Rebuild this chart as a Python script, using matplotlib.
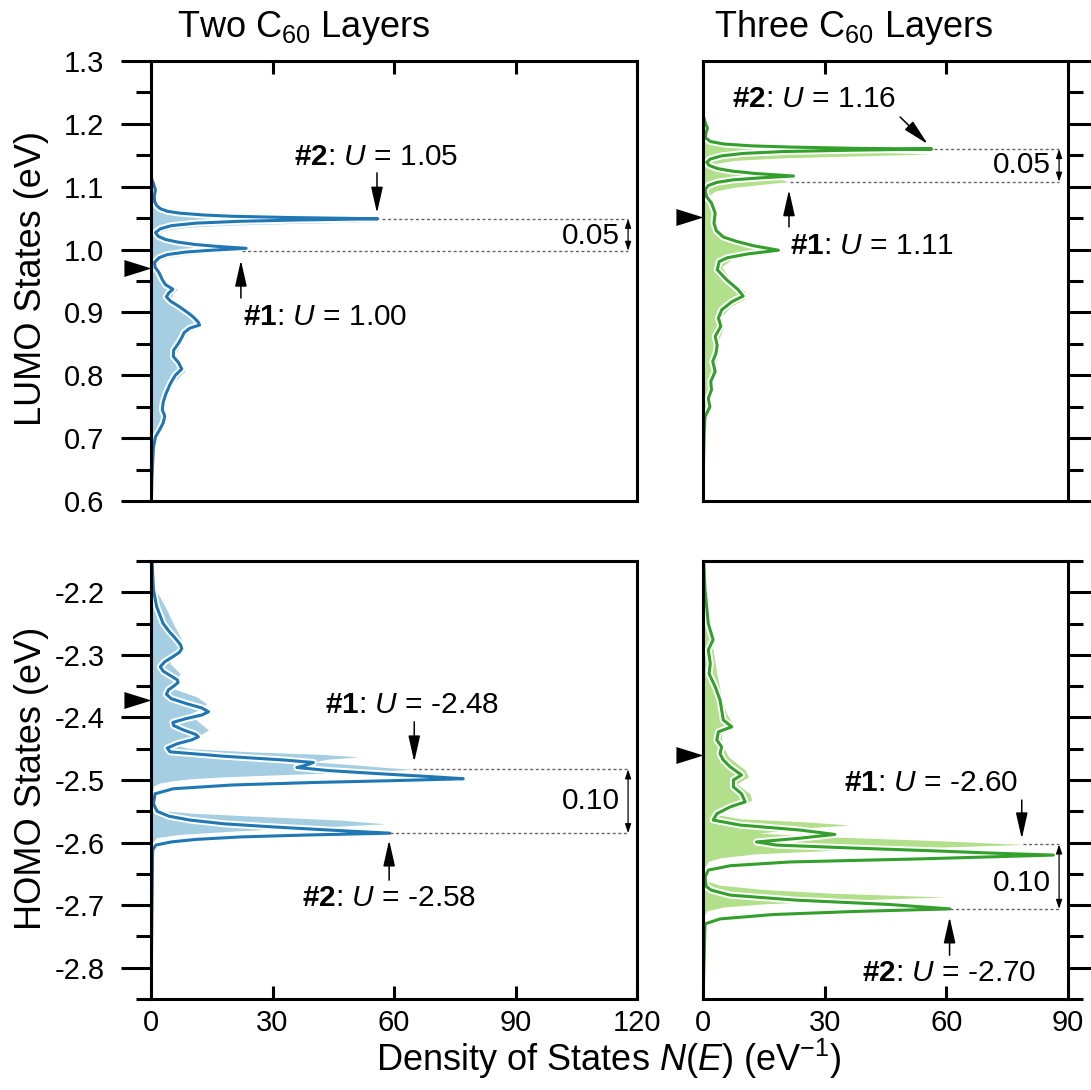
import matplotlib
matplotlib.use("Agg")
import matplotlib.pyplot as plt
import matplotlib.patheffects as pe
from matplotlib.ticker import MultipleLocator, FormatStrFormatter

plt.rcParams['font.family'] = 'Liberation Sans'
plt.rcParams['mathtext.fontset'] = 'custom'
plt.rcParams['mathtext.rm'] = 'Liberation Sans'
plt.rcParams['mathtext.it'] = 'Liberation Sans:italic'
plt.rcParams['mathtext.bf'] = 'Liberation Sans:bold'
plt.rcParams['axes.unicode_minus'] = False

# ---- data: energy (eV) and DOS N(E) (1/eV) ----

# two C60 layers, LUMO
two_lumo_e_line = [1.115, 1.105, 1.095, 1.085, 1.076, 1.070, 1.065, 1.061, 1.058, 1.055,
                   1.053, 1.051, 1.049, 1.047, 1.045, 1.042, 1.038, 1.033, 1.027, 1.021,
                   1.016, 1.012, 1.008, 1.005, 1.002, 0.999, 0.996, 0.992, 0.987, 0.980,
                   0.972, 0.963, 0.952, 0.944, 0.937, 0.931, 0.925, 0.918, 0.910, 0.900,
                   0.893, 0.885, 0.880, 0.875, 0.868, 0.860, 0.851, 0.840, 0.830, 0.820,
                   0.810, 0.800, 0.787, 0.771, 0.757, 0.745, 0.735, 0.724, 0.713, 0.702,
                   0.685, 0.660, 0.630, 0.600]
two_lumo_n_line = [0.0, 0.6, 1.1, 0.8, 0.9, 1.4, 2.3, 4.0, 7.0, 13.0,
                   20.0, 34.0, 56.0, 36.0, 22.0, 11.0, 5.0, 2.3, 1.1, 1.8,
                   3.6, 6.5, 11.0, 16.5, 23.5, 15.0, 8.5, 4.0, 2.0, 0.9,
                   1.0, 2.0, 2.8, 3.6, 5.4, 4.4, 3.8, 4.8, 6.8, 9.0,
                   10.4, 11.6, 12.0, 9.6, 8.2, 7.6, 6.8, 5.6, 5.5, 6.8,
                   7.6, 6.0, 4.8, 3.7, 3.0, 2.8, 3.4, 3.0, 2.1, 1.1,
                   0.6, 0.4, 0.2, 0.1]
two_lumo_e_fill = [1.110, 1.100, 1.090, 1.080, 1.071, 1.064, 1.059, 1.055, 1.051, 1.048,
                   1.046, 1.044, 1.042, 1.039, 1.036, 1.032, 1.027, 1.022, 1.016, 1.011,
                   1.006, 1.002, 0.998, 0.995, 0.991, 0.987, 0.982, 0.975, 0.965, 0.953,
                   0.944, 0.937, 0.930, 0.923, 0.915, 0.905, 0.895, 0.886, 0.881, 0.875,
                   0.866, 0.855, 0.845, 0.835, 0.825, 0.815, 0.807, 0.798, 0.788, 0.773,
                   0.758, 0.746, 0.736, 0.725, 0.713, 0.700, 0.680, 0.650, 0.620, 0.600]
two_lumo_n_fill = [0.0, 0.8, 1.1, 0.9, 1.3, 2.5, 4.5, 8.0, 15.0, 26.0,
                   38.0, 55.0, 38.0, 20.0, 10.0, 4.5, 2.2, 2.2, 3.8, 6.5,
                   11.0, 16.5, 22.0, 15.0, 8.0, 4.0, 2.0, 1.3, 2.3, 3.4,
                   4.6, 6.5, 5.4, 5.0, 6.4, 8.6, 10.6, 12.2, 12.6, 10.6,
                   9.0, 7.8, 7.0, 6.2, 6.6, 8.0, 8.4, 7.0, 5.5, 4.2,
                   3.5, 3.4, 3.9, 3.4, 2.4, 1.3, 0.7, 0.4, 0.2, 0.1]

# three C60 layers, LUMO
three_lumo_e_line = [1.215, 1.203, 1.193, 1.185, 1.178, 1.172, 1.168, 1.165, 1.163, 1.161,
                     1.160, 1.158, 1.156, 1.153, 1.149, 1.144, 1.139, 1.134, 1.129, 1.125,
                     1.121, 1.117, 1.114, 1.111, 1.107, 1.102, 1.095, 1.084, 1.074, 1.058,
                     1.042, 1.030, 1.020, 1.013, 1.006, 0.999, 0.993, 0.987, 0.981, 0.968,
                     0.952, 0.936, 0.926, 0.917, 0.904, 0.891, 0.878, 0.862, 0.848, 0.835,
                     0.822, 0.806, 0.790, 0.777, 0.763, 0.750, 0.734, 0.708, 0.655, 0.600]
three_lumo_n_line = [0.0, 0.5, 1.1, 0.7, 0.6, 1.8, 5.0, 12.0, 22.0, 38.0,
                     56.4, 36.0, 20.0, 10.0, 4.5, 1.8, 0.9, 1.5, 3.5, 7.0,
                     13.0, 22.3, 14.0, 7.5, 3.5, 1.3, 0.5, 0.9, 2.1, 3.0,
                     2.7, 3.3, 5.0, 8.3, 12.5, 18.6, 11.0, 6.0, 4.0, 3.5,
                     5.8, 8.7, 9.9, 7.1, 4.6, 3.8, 4.4, 3.0, 3.5, 3.2,
                     2.4, 3.0, 1.9, 2.1, 1.3, 1.7, 0.5, 0.3, 0.1, 0.0]
three_lumo_e_fill = [1.215, 1.206, 1.193, 1.180, 1.172, 1.166, 1.162, 1.158, 1.155, 1.152,
                     1.149, 1.146, 1.142, 1.137, 1.131, 1.125, 1.120, 1.115, 1.111, 1.108,
                     1.104, 1.099, 1.093, 1.086, 1.074, 1.053, 1.031, 1.018, 1.010, 1.002,
                     0.996, 0.990, 0.984, 0.973, 0.952, 0.933, 0.922, 0.909, 0.893, 0.875,
                     0.856, 0.837, 0.819, 0.803, 0.787, 0.766, 0.750, 0.734, 0.708, 0.650,
                     0.600]
three_lumo_n_fill = [0.0, 0.7, 1.3, 1.1, 2.5, 7.0, 14.0, 28.0, 42.0, 56.0,
                     38.0, 20.0, 8.0, 3.0, 2.2, 4.5, 9.0, 15.0, 19.5, 21.0,
                     15.0, 7.5, 3.0, 1.4, 1.8, 3.2, 3.5, 6.0, 10.5, 16.6,
                     18.8, 12.0, 7.0, 4.6, 6.7, 10.4, 10.4, 6.7, 4.6, 5.0,
                     3.8, 3.8, 3.2, 3.2, 2.4, 2.1, 1.9, 0.9, 0.3, 0.1,
                     0.0]

# two C60 layers, HOMO
two_homo_e_line = [-2.150, -2.170, -2.196, -2.223, -2.250, -2.262, -2.275, -2.284, -2.290, -2.296,
                   -2.303, -2.311, -2.319, -2.326, -2.334, -2.340, -2.344, -2.349, -2.356, -2.363,
                   -2.370, -2.378, -2.385, -2.391, -2.396, -2.402, -2.408, -2.413, -2.420, -2.427,
                   -2.431, -2.436, -2.442, -2.449, -2.455, -2.462, -2.468, -2.472, -2.476, -2.480,
                   -2.485, -2.490, -2.495, -2.498, -2.501, -2.504, -2.508, -2.514, -2.522, -2.538,
                   -2.550, -2.558, -2.564, -2.570, -2.575, -2.580, -2.585, -2.588, -2.591, -2.595,
                   -2.599, -2.604, -2.612, -2.850]
two_homo_n_line = [0.3, 0.4, 0.6, 1.4, 3.0, 4.4, 6.2, 7.3, 7.6, 7.0,
                   5.4, 3.4, 2.3, 3.0, 5.0, 6.5, 6.7, 5.8, 4.3, 3.8,
                   5.0, 8.8, 12.6, 14.2, 12.6, 8.6, 5.4, 5.6, 8.0, 11.0,
                   11.7, 10.0, 6.5, 4.0, 4.7, 17.9, 32.7, 40.1, 38.4, 36.0,
                   44.0, 56.5, 70.0, 77.1, 60.0, 40.0, 20.0, 5.5, 1.0, 0.6,
                   1.5, 4.5, 9.6, 18.0, 30.2, 44.0, 59.0, 38.0, 22.0, 11.0,
                   5.0, 1.2, 0.4, 0.0]
two_homo_e_fill = [-2.150, -2.170, -2.196, -2.223, -2.250, -2.276, -2.287, -2.300, -2.314, -2.330,
                   -2.340, -2.354, -2.367, -2.378, -2.386, -2.394, -2.407, -2.420, -2.431, -2.442,
                   -2.450, -2.455, -2.459, -2.463, -2.467, -2.471, -2.476, -2.480, -2.483, -2.486,
                   -2.489, -2.492, -2.495, -2.498, -2.501, -2.505, -2.510, -2.525, -2.543, -2.549,
                   -2.553, -2.558, -2.564, -2.570, -2.575, -2.581, -2.587, -2.592, -2.599, -2.850]
two_homo_n_fill = [0.2, 0.5, 1.2, 3.5, 5.5, 7.6, 7.6, 5.1, 4.7, 7.2,
                   6.3, 5.5, 11.3, 13.7, 12.5, 9.6, 11.7, 14.2, 11.3, 4.7,
                   9.6, 25.0, 42.0, 51.2, 43.4, 40.1, 50.8, 58.0, 64.8, 55.0,
                   43.4, 30.0, 17.9, 10.0, 5.5, 2.0, 0.6, 0.4, 0.8, 3.0,
                   10.0, 26.1, 46.7, 57.8, 42.5, 22.0, 7.2, 1.4, 0.4, 0.0]

# three C60 layers, HOMO
three_homo_e_line = [-2.150, -2.170, -2.196, -2.223, -2.250, -2.276, -2.292, -2.314, -2.330, -2.351,
                     -2.372, -2.388, -2.404, -2.415, -2.423, -2.436, -2.447, -2.458, -2.468, -2.479,
                     -2.492, -2.500, -2.511, -2.522, -2.535, -2.543, -2.554, -2.564, -2.572, -2.580,
                     -2.587, -2.593, -2.599, -2.604, -2.609, -2.613, -2.617, -2.620, -2.623, -2.626,
                     -2.631, -2.637, -2.644, -2.655, -2.670, -2.676, -2.684, -2.692, -2.699, -2.706,
                     -2.710, -2.715, -2.722, -2.730, -2.850]
three_homo_n_line = [0.2, 0.3, 0.5, 0.9, 1.3, 2.5, 1.3, 1.8, 1.5, 3.0,
                     4.2, 4.6, 5.0, 7.1, 3.8, 3.4, 4.6, 4.2, 5.0, 6.7,
                     9.5, 7.5, 7.5, 9.5, 10.4, 6.7, 3.4, 2.5, 9.1, 23.9,
                     32.5, 23.9, 13.2, 18.1, 38.0, 56.0, 72.0, 86.4, 70.0, 54.0,
                     21.4, 6.7, 1.3, 0.5, 0.8, 2.0, 6.7, 23.0, 46.1, 60.9,
                     37.9, 17.3, 4.2, 0.5, 0.0]
three_homo_e_fill = [-2.150, -2.170, -2.223, -2.276, -2.330, -2.367, -2.394, -2.407, -2.420, -2.442,
                     -2.463, -2.484, -2.495, -2.506, -2.522, -2.532, -2.543, -2.555, -2.562, -2.567,
                     -2.572, -2.577, -2.585, -2.591, -2.597, -2.603, -2.608, -2.613, -2.618, -2.624,
                     -2.630, -2.642, -2.660, -2.668, -2.675, -2.681, -2.687, -2.692, -2.698, -2.703,
                     -2.709, -2.716, -2.850]
three_homo_n_fill = [0.2, 0.5, 1.3, 2.1, 3.4, 4.6, 5.8, 7.1, 4.6, 4.6,
                     6.3, 10.4, 11.2, 8.3, 11.6, 12.0, 9.1, 3.4, 9.1, 25.6,
                     36.2, 23.9, 14.0, 31.8, 58.0, 79.0, 55.0, 30.0, 13.0, 4.5,
                     1.3, 0.3, 0.5, 4.0, 15.0, 32.0, 59.7, 35.0, 15.0, 5.0,
                     1.0, 0.3, 0.0]

# peak energies of the marked states (#1, #2) and their U labels
two_lumo_peaks = [0.998, 1.049]
two_lumo_u = [1.00, 1.05]
three_lumo_peaks = [1.108, 1.160]
three_lumo_u = [1.11, 1.16]
two_homo_peaks = [-2.483, -2.585]
two_homo_u = [-2.48, -2.58]
three_homo_peaks = [-2.603, -2.706]
three_homo_u = [-2.60, -2.70]

# black triangles on the energy axis
two_lumo_mark = 0.971
three_lumo_mark = 1.052
two_homo_mark = -2.372
three_homo_mark = -2.460

titles = ['Two C$_{60}$ Layers', 'Three C$_{60}$ Layers']
lumo_ticks = [0.6, 1.3]
homo_ticks = [-2.85, -2.15]
xticks_two = [0, 30, 60, 90, 120]
xticks_three = [0, 30, 60, 90]

BLUE_LIGHT, BLUE_DARK = '#a6cee3', '#1f78b4'
GREEN_LIGHT, GREEN_DARK = '#b2df8a', '#33a02c'

W, H = 1091, 1090
fig = plt.figure(figsize=(W / 100, H / 100), dpi=100)


def make_axes(left, top, right, bottom):
    return fig.add_axes([left / W, 1 - bottom / H, (right - left) / W, (bottom - top) / H])


def style_axes(ax, xticks, ylim, right_side, top_panel):
    ax.set_xlim(xticks[0], xticks[-1])
    ax.set_ylim(*ylim)
    for sp in ax.spines.values():
        sp.set_linewidth(2.2)
    ax.set_xticks(xticks)
    ax.yaxis.set_major_locator(MultipleLocator(0.1))
    ax.yaxis.set_minor_locator(MultipleLocator(0.05))
    ax.yaxis.set_major_formatter(FormatStrFormatter('%.1f'))
    ax.tick_params(axis='y', which='major', direction='out', length=21.5, width=2.2,
                   pad=12, labelsize=21)
    ax.tick_params(axis='y', which='minor', direction='out', length=11, width=2.2)
    ax.tick_params(axis='x', which='major', direction='in', length=9.5, width=2.2,
                   pad=7, labelsize=21)
    if right_side:
        ax.tick_params(axis='y', which='both', left=False, right=True,
                       labelleft=False, labelright=False)
    if top_panel:
        ax.tick_params(axis='x', top=True, bottom=False, labeltop=False, labelbottom=False)


def draw_dos(ax, e_fill, n_fill, e_line, n_line, light, dark):
    ax.fill_betweenx(e_fill, 0, n_fill, color=light, lw=0, zorder=1)
    ax.plot(n_line, e_line, color=dark, lw=2.2, zorder=2,
            path_effects=[pe.Stroke(linewidth=5.0, foreground='white'), pe.Normal()])


def triangle(ax, e):
    ax.plot([0], [e], marker=[(-1.6, 0.5), (0, 0), (-1.6, -0.5), (-1.6, 0.5)],
            ms=39, color='k', mew=0, clip_on=False, zorder=5)


def arrow(ax, start, end):
    ax.annotate('', xy=end, xytext=start,
                arrowprops=dict(arrowstyle='-|>,head_length=0.8,head_width=0.18',
                                mutation_scale=20, lw=1.1, color='k',
                                shrinkA=0, shrinkB=0))


def peak_label(ax, xy, num, u):
    ax.text(xy[0], xy[1], r'$\mathbf{\#%d}$: $\mathit{U}$ = %.2f' % (num, u),
            ha='center', va='center', fontsize=21.5)


def gap(ax, peaks, starts, x_end, u, text_e):
    for e, x0 in zip(peaks, starts):
        ax.plot([x0, x_end], [e, e], color='#666666', lw=1.0, ls=(0, (2.2, 1.8)), zorder=3)
    ax.annotate('', xy=(x_end, peaks[0]), xytext=(x_end, peaks[1]),
                arrowprops=dict(arrowstyle='<|-|>,head_length=0.45,head_width=0.15',
                                mutation_scale=12, lw=0.9, color='k',
                                shrinkA=0, shrinkB=0))
    ax.text(x_end - 2.0, text_e, '%.2f' % abs(u[1] - u[0]), ha='right', va='center',
            fontsize=21.5)


ax_tl = make_axes(151, 61, 637, 501)
ax_tr = make_axes(703, 61, 1068, 501)
ax_bl = make_axes(151, 561, 637, 999)
ax_br = make_axes(703, 561, 1068, 999)

style_axes(ax_tl, xticks_two, lumo_ticks, False, True)
style_axes(ax_tr, xticks_three, lumo_ticks, True, True)
style_axes(ax_bl, xticks_two, homo_ticks, False, False)
style_axes(ax_br, xticks_three, homo_ticks, True, False)

draw_dos(ax_tl, two_lumo_e_fill, two_lumo_n_fill, two_lumo_e_line, two_lumo_n_line,
         BLUE_LIGHT, BLUE_DARK)
draw_dos(ax_tr, three_lumo_e_fill, three_lumo_n_fill, three_lumo_e_line, three_lumo_n_line,
         GREEN_LIGHT, GREEN_DARK)
draw_dos(ax_bl, two_homo_e_fill, two_homo_n_fill, two_homo_e_line, two_homo_n_line,
         BLUE_LIGHT, BLUE_DARK)
draw_dos(ax_br, three_homo_e_fill, three_homo_n_fill, three_homo_e_line, three_homo_n_line,
         GREEN_LIGHT, GREEN_DARK)

triangle(ax_tl, two_lumo_mark)
triangle(ax_tr, three_lumo_mark)
triangle(ax_bl, two_homo_mark)
triangle(ax_br, three_homo_mark)

# two layers, LUMO
peak_label(ax_tl, (55.6, 1.147), 2, two_lumo_u[1])
arrow(ax_tl, (55.8, 1.122), (55.8, 1.058))
peak_label(ax_tl, (43.0, 0.893), 1, two_lumo_u[0])
arrow(ax_tl, (22.2, 0.923), (22.2, 0.983))
gap(ax_tl, two_lumo_peaks, [22.5, 57.0], 117.8, two_lumo_u, 1.0216)

# three layers, LUMO
peak_label(ax_tr, (27.4, 1.240), 2, three_lumo_u[1])
arrow(ax_tr, (48.6, 1.211), (55.4, 1.168))
peak_label(ax_tr, (41.7, 1.006), 1, three_lumo_u[0])
arrow(ax_tr, (21.2, 1.036), (21.2, 1.095))
gap(ax_tr, three_lumo_peaks, [21.5, 57.0], 87.8, three_lumo_u, 1.1345)

# two layers, HOMO
peak_label(ax_bl, (64.5, -2.380), 1, two_homo_u[0])
arrow(ax_bl, (65.0, -2.407), (65.0, -2.471))
peak_label(ax_bl, (58.8, -2.689), 2, two_homo_u[1])
arrow(ax_bl, (58.8, -2.660), (58.8, -2.596))
gap(ax_bl, two_homo_peaks, [64.8, 59.0], 117.8, two_homo_u, -2.534)

# three layers, HOMO
peak_label(ax_br, (56.2, -2.505), 1, three_homo_u[0])
arrow(ax_br, (78.6, -2.532), (78.6, -2.594))
peak_label(ax_br, (60.6, -2.809), 2, three_homo_u[1])
arrow(ax_br, (60.8, -2.780), (60.8, -2.719))
gap(ax_br, three_homo_peaks, [79.0, 61.0], 87.8, three_homo_u, -2.665)

# titles and axis labels
fig.text(177 / W, 1 - 37 / H, titles[0], ha='left', va='baseline', fontsize=26)
fig.text(714 / W, 1 - 37 / H, titles[1], ha='left', va='baseline', fontsize=26)
fig.text(32 / W, 1 - 278 / H, 'LUMO States (eV)', rotation=90, ha='center', va='center',
         fontsize=26)
fig.text(32 / W, 1 - 778 / H, 'HOMO States (eV)', rotation=90, ha='center', va='center',
         fontsize=26)
fig.text(609 / W, 1 - 1071 / H, r'Density of States $\mathit{N}$($\mathit{E}$) (eV$^{-1}$)',
         ha='center', va='baseline', fontsize=26)

fig.savefig('out.png', dpi=100)
